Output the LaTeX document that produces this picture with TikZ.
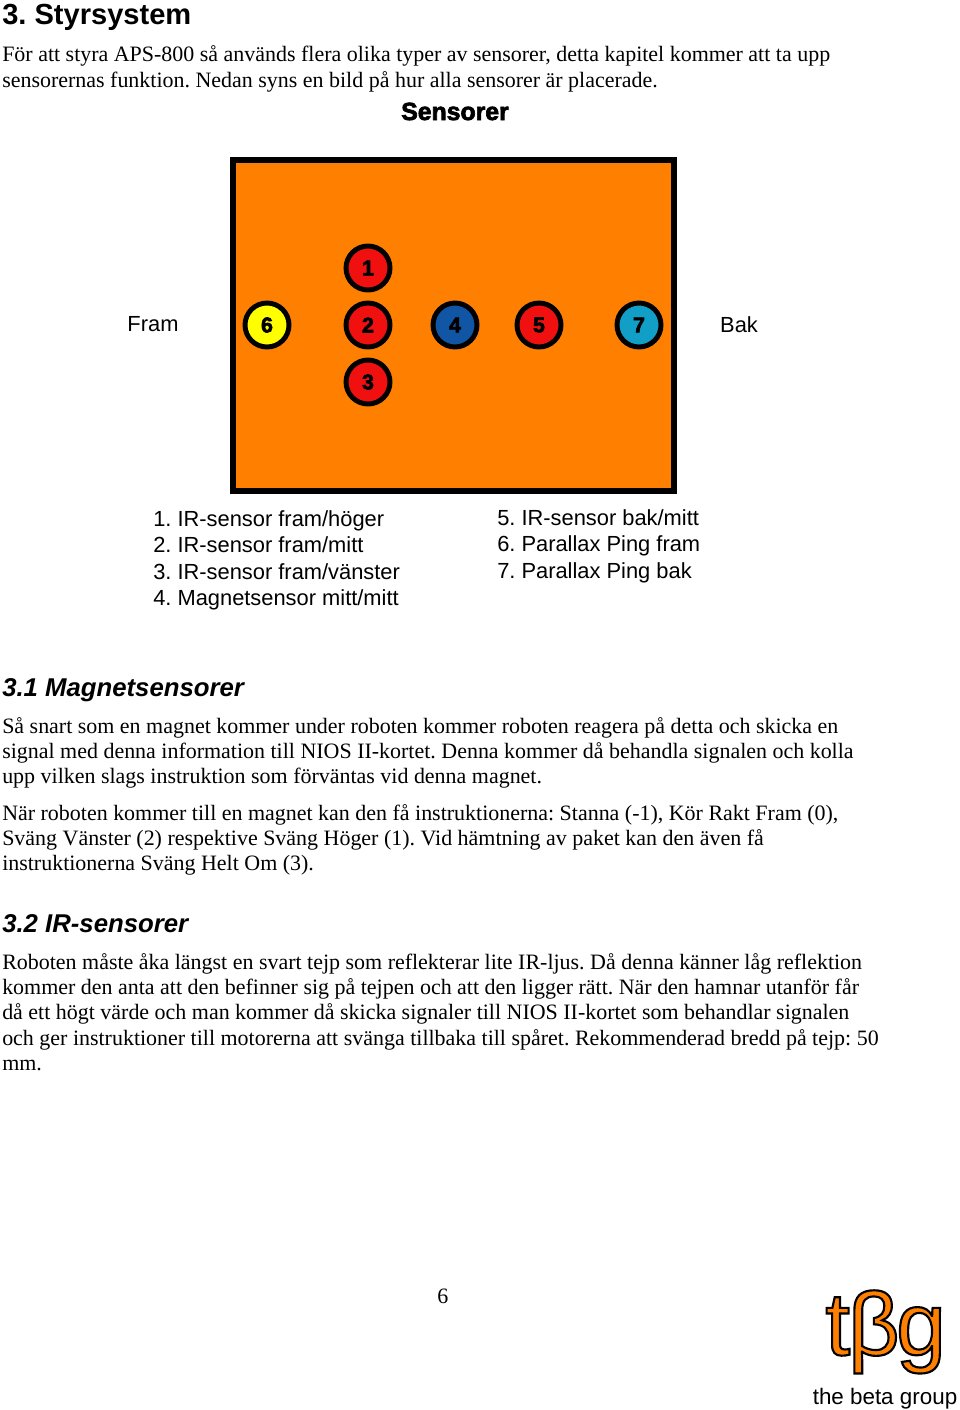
\documentclass[tikz,border=0pt]{standalone}
\usepackage{fontspec}
\setmainfont{Liberation Serif}
\newfontfamily\arialfont{Liberation Sans}
\frenchspacing
\definecolor{robotorange}{HTML}{FF8000}
\definecolor{sensorred}{HTML}{F01010}
\definecolor{sensoryellow}{HTML}{FFFF00}
\definecolor{sensorblue}{HTML}{1155A5}
\definecolor{sensorcyan}{HTML}{119FC8}
\newcommand{\heavy}[1]{\special{pdf:code 2 Tr 0.5 w 0 0 0 RG}#1\special{pdf:code 0 Tr}}
\tikzset{
  bodytext/.style={anchor=base west,inner sep=0pt,font=\fontsize{16.47}{18}\selectfont},
  listtext/.style={anchor=base west,inner sep=0pt,font=\arialfont\fontsize{16.4}{18}\selectfont},
  headtext/.style={anchor=base west,inner sep=0pt,font=\arialfont\bfseries\itshape\fontsize{19.3}{22}\selectfont},
  sensor/.style={circle,draw=black,line width=3.7pt,minimum size=33pt,inner sep=0pt,
    font=\arialfont\bfseries\fontsize{16}{16}\selectfont}
}
\begin{document}
\begin{tikzpicture}[x=0.75pt,y=-0.75pt]
 	\useasboundingbox (0,0) rectangle (960,1410);
 	% running text
 	\node[anchor=base west,inner sep=0pt,font=\arialfont\bfseries\fontsize{21.8}{24}\selectfont] (title) at (2,24) {3. Styrsystem};
 	\foreach \y/\texn in {
 		61/{För att styra APS-800 så används flera olika typer av sensorer, detta kapitel kommer att ta upp},
 		87/{sensorernas funktion. Nedan syns en bild på hur alla sensorer är placerade.},
 		733/{Så snart som en magnet kommer under roboten kommer roboten reagera på detta och skicka en},
 		758/{signal med denna information till NIOS II-kortet. Denna kommer då behandla signalen och kolla},
 		783/{upp vilken slags instruktion som förväntas vid denna magnet.},
 		820/{När roboten kommer till en magnet kan den få instruktionerna: Stanna (-1), Kör Rakt Fram (0),},
 		845/{Sväng Vänster (2) respektive Sväng Höger (1). Vid hämtning av paket kan den även få},
 		870/{instruktionerna Sväng Helt Om (3).},
 		969/{Roboten måste åka längst en svart tejp som reflekterar lite IR-ljus. Då denna känner låg reflektion},
 		994/{kommer den anta att den befinner sig på tejpen och att den ligger rätt. När den hamnar utanför får},
 		1019/{då ett högt värde och man kommer då skicka signaler till NIOS II-kortet som behandlar signalen},
 		1045/{och ger instruktioner till motorerna att svänga tillbaka till spåret. Rekommenderad bredd på tejp: 50},
 		1070/{mm.}}
 	\path (2,\y) node[bodytext] (line\y) {\texn};
 	\node[headtext] (head1) at (2,696) {3.1 Magnetsensorer};
 	\node[headtext] (head2) at (2,932) {3.2 IR-sensorer};
 	\node[bodytext] (pagenr) at (437,1303) {6};
 	% the robot
 	\node[anchor=base,inner sep=0pt,font=\arialfont\bfseries\fontsize{18.6}{19}\selectfont] (sensorer) at (455,120) {\heavy{Sensorer}};
 	\draw[line width=3.8pt,fill=robotorange] (233,160) rectangle (674,491);
 	\foreach \x/\y/\col/\texn in {368/268/sensorred/1,368/325/sensorred/2,368/382/sensorred/3,
 		455/325/sensorblue/4,539/325/sensorred/5,267/325/sensoryellow/6,639/325/sensorcyan/7}
 	\path (\x,\y) node[sensor,fill=\col] (s\texn) {\heavy{\texn}};
 	\node[listtext,anchor=base] (fram) at (153,331) {Fram};
 	\node[listtext,anchor=base] (bak) at (739,332) {Bak};
 	% list of sensors
 	\foreach \x/\y/\n/\texn in {
 		153/526/a/{1. IR-sensor fram/höger},
 		153/552/b/{2. IR-sensor fram/mitt},
 		153/579/c/{3. IR-sensor fram/vänster},
 		153/605/d/{4. Magnetsensor mitt/mitt},
 		497/525/e/{5. IR-sensor bak/mitt},
 		497/551/f/{6. Parallax Ping fram},
 		497/578/g/{7. Parallax Ping bak}}
 	\path (\x,\y) node[listtext] (item\n) {\texn};
 	% logo
 	\node[anchor=base west,inner sep=0pt,font=\arialfont\fontsize{67}{67}\selectfont,text=robotorange] (logo) at (825,1355)
 		{\special{pdf:code 2 Tr 1.6 w 0 0 0 RG}t\kern-1.5pt β\kern-2.5pt g\special{pdf:code 0 Tr}};
 	\node[anchor=base,inner sep=0pt,font=\arialfont\fontsize{16.8}{18}\selectfont] (logotext) at (885,1404) {the beta group};
\end{tikzpicture}
\end{document}
